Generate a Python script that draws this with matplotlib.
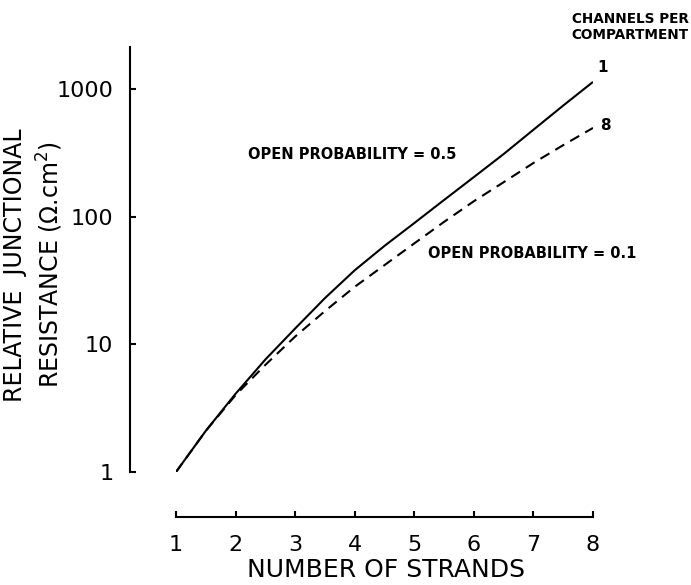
import matplotlib
matplotlib.use('Agg')
import matplotlib.pyplot as plt

# number of strands
strands = [1, 1.5, 2, 2.5, 3, 3.5, 4, 4.5, 5, 5.5, 6, 6.5, 7, 7.5, 8]
# relative junctional resistance, 1 channel per compartment (open prob 0.5)
res_one = [1, 2.1, 4.1, 7.6, 13.3, 23, 38, 59, 89, 135, 204, 309, 479, 741, 1135]
# relative junctional resistance, 8 channels per compartment (open prob 0.1)
res_eight = [1, 2.1, 4.0, 6.9, 11.5, 18.2, 28.2, 41.7, 61.7, 91, 132, 186, 263, 363, 495]

x_ticks = [1, 2, 3, 4, 5, 6, 7, 8]
y_ticks = [1, 10, 100, 1000]
y_tick_labels = ['1', '10', '100', '1000']

plt.rcParams['font.family'] = ['DejaVu Sans']

W, H = 691, 585
PX = 72 / 100  # points per pixel at dpi 100
fig = plt.figure(figsize=(W / 100, H / 100), dpi=100)
ax = fig.add_axes([176 / W, (H - 472) / H, (593 - 176) / W, (472 - 47) / H])

ax.plot(strands, res_one, color='black', linewidth=1.5, solid_capstyle='butt')
ax.plot(strands, res_eight, color='black', linewidth=1.5,
        linestyle=(0, (5, 3.3)))

ax.set_yscale('log')
ax.set_xlim(1, 8)
ax.set_ylim(1, 2130)

for side in ['top', 'right']:
    ax.spines[side].set_visible(False)
ax.spines['left'].set_position(('outward', 46 * PX))
ax.spines['bottom'].set_position(('outward', 45 * PX))
for side in ['left', 'bottom']:
    ax.spines[side].set_linewidth(1.5)

ax.set_xticks(x_ticks)
ax.set_xticklabels([str(t) for t in x_ticks])
ax.set_yticks(y_ticks)
ax.set_yticklabels(y_tick_labels)
ax.yaxis.set_minor_locator(matplotlib.ticker.NullLocator())
ax.tick_params(axis='both', direction='in', length=4.5, width=1.5,
               labelsize=16)
ax.tick_params(axis='x', pad=13)
ax.tick_params(axis='y', pad=12)

ax.set_xlabel('NUMBER OF STRANDS', fontsize=18, va='center')
ax.xaxis.set_label_coords((386 - 176) / 417, (472 - 570) / 425)
ax.set_ylabel('RELATIVE  JUNCTIONAL\nRESISTANCE ($\\Omega$.cm$^{2}$)',
              fontsize=17, linespacing=1.3, va='center')
ax.yaxis.set_label_coords((34 - 176) / 417, (472 - 265) / 425)

fig.text(630 / W, 1 - 27 / H, 'CHANNELS PER\nCOMPARTMENT', ha='center',
         va='center', fontsize=9.8, fontweight='bold', linespacing=1.2)
fig.text(603 / W, 1 - 67 / H, '1', ha='center', va='center',
         fontsize=11, fontweight='bold')
fig.text(605 / W, 1 - 126 / H, '8', ha='center', va='center',
         fontsize=11, fontweight='bold')
fig.text(248 / W, 1 - 155 / H, 'OPEN PROBABILITY = 0.5', ha='left',
         va='center', fontsize=10.5, fontweight='bold')
fig.text(428 / W, 1 - 253 / H, 'OPEN PROBABILITY = 0.1', ha='left',
         va='center', fontsize=10.5, fontweight='bold')

fig.savefig('out.png', dpi=100)
